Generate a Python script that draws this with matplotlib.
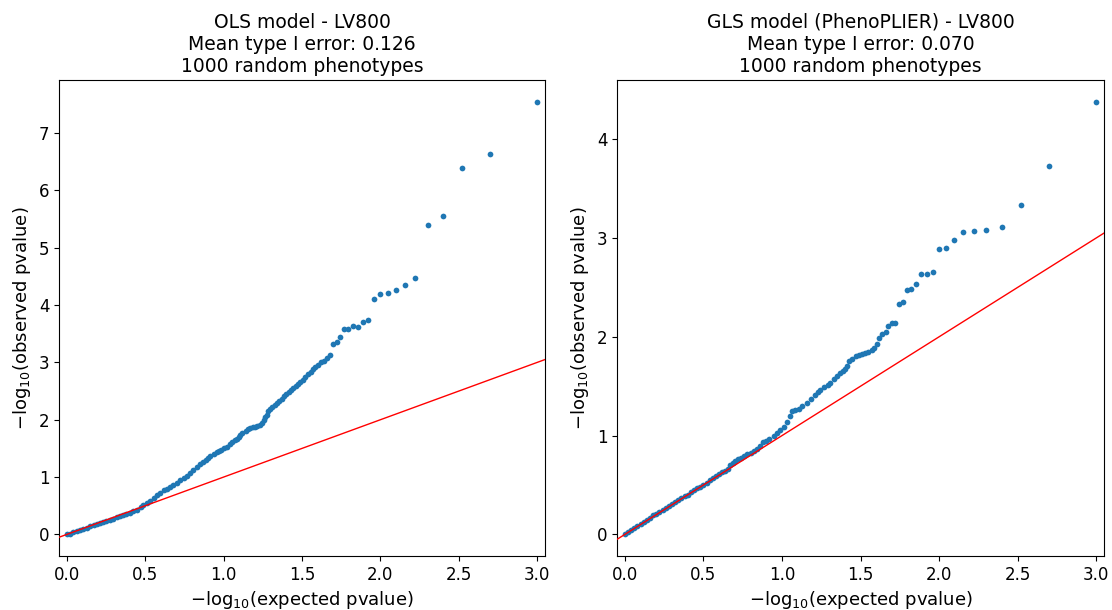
import matplotlib
matplotlib.use("Agg")
import matplotlib.pyplot as plt

# expected vs observed -log10(pvalue)
ols_expected = [
    0.000, 0.020, 0.040, 0.062, 0.085, 0.105, 0.126, 0.148, 0.170, 0.190,
    0.210, 0.230, 0.250, 0.275, 0.296, 0.318, 0.340, 0.360, 0.380, 0.400,
    0.424, 0.445, 0.470, 0.488, 0.510, 0.530, 0.555, 0.575, 0.594, 0.620,
    0.640, 0.658, 0.680, 0.700, 0.722, 0.745, 0.765, 0.786, 0.807, 0.830,
    0.850, 0.870, 0.885, 0.900, 0.914, 0.940, 0.957, 0.970, 0.985, 1.000,
    1.020, 1.040, 1.055, 1.070, 1.084, 1.095, 1.105, 1.120, 1.140, 1.155,
    1.170, 1.185, 1.200, 1.215, 1.233, 1.245, 1.255, 1.265, 1.275, 1.286,
    1.295, 1.310, 1.325, 1.340, 1.355, 1.370, 1.385, 1.400, 1.415, 1.430,
    1.445, 1.460, 1.475, 1.490, 1.505, 1.520, 1.540, 1.555, 1.570, 1.585,
    1.600, 1.620, 1.640, 1.660, 1.680, 1.699, 1.721, 1.745, 1.770, 1.796,
    1.824, 1.854, 1.886, 1.921, 1.959, 2.000, 2.046, 2.097, 2.155, 2.222,
    2.301, 2.398, 2.523, 2.699, 3.000,
]
ols_observed = [
    0.000, 0.015, 0.035, 0.055, 0.075, 0.095, 0.115, 0.140, 0.160, 0.180,
    0.195, 0.215, 0.230, 0.250, 0.270, 0.295, 0.315, 0.340, 0.360, 0.380,
    0.405, 0.430, 0.470, 0.510, 0.550, 0.590, 0.640, 0.690, 0.725, 0.770,
    0.800, 0.830, 0.860, 0.900, 0.940, 0.980, 1.020, 1.070, 1.120, 1.170,
    1.220, 1.270, 1.300, 1.330, 1.360, 1.410, 1.440, 1.460, 1.480, 1.500,
    1.530, 1.580, 1.610, 1.640, 1.670, 1.700, 1.740, 1.770, 1.800, 1.830,
    1.850, 1.870, 1.880, 1.890, 1.910, 1.950, 1.990, 2.040, 2.090, 2.150,
    2.180, 2.220, 2.260, 2.290, 2.330, 2.370, 2.410, 2.450, 2.480, 2.520,
    2.560, 2.590, 2.630, 2.660, 2.700, 2.740, 2.800, 2.840, 2.880, 2.920,
    2.960, 3.000, 3.030, 3.080, 3.130, 3.320, 3.360, 3.440, 3.580, 3.580,
    3.630, 3.620, 3.700, 3.740, 4.100, 4.200, 4.210, 4.270, 4.350, 4.480,
    5.400, 5.550, 6.390, 6.640, 7.550,
]

gls_expected = [
    0.000, 0.020, 0.040, 0.060, 0.080, 0.100, 0.120, 0.140, 0.160, 0.180,
    0.200, 0.220, 0.240, 0.260, 0.280, 0.300, 0.320, 0.340, 0.360, 0.380,
    0.400, 0.420, 0.440, 0.460, 0.480, 0.500, 0.520, 0.540, 0.560, 0.580,
    0.600, 0.620, 0.640, 0.655, 0.670, 0.685, 0.700, 0.720, 0.740, 0.760,
    0.780, 0.800, 0.820, 0.840, 0.860, 0.880, 0.900, 0.920, 0.946, 0.970,
    0.990, 1.010, 1.030, 1.050, 1.064, 1.085, 1.106, 1.130, 1.160, 1.185,
    1.210, 1.230, 1.244, 1.265, 1.290, 1.308, 1.330, 1.350, 1.370, 1.385,
    1.400, 1.415, 1.425, 1.447, 1.468, 1.490, 1.510, 1.530, 1.550, 1.570,
    1.585, 1.606, 1.620, 1.638, 1.660, 1.676, 1.699, 1.721, 1.745, 1.770,
    1.796, 1.824, 1.854, 1.886, 1.921, 1.959, 2.000, 2.046, 2.097, 2.155,
    2.222, 2.301, 2.398, 2.523, 2.699, 3.000,
]
gls_observed = [
    0.000, 0.020, 0.040, 0.065, 0.085, 0.105, 0.130, 0.150, 0.170, 0.195,
    0.210, 0.230, 0.250, 0.265, 0.285, 0.305, 0.325, 0.350, 0.370, 0.385,
    0.400, 0.425, 0.445, 0.465, 0.480, 0.500, 0.525, 0.550, 0.575, 0.595,
    0.615, 0.630, 0.645, 0.665, 0.700, 0.725, 0.740, 0.760, 0.775, 0.795,
    0.810, 0.825, 0.840, 0.860, 0.890, 0.930, 0.950, 0.970, 1.000, 1.030,
    1.060, 1.090, 1.140, 1.200, 1.245, 1.260, 1.270, 1.300, 1.330, 1.370,
    1.410, 1.440, 1.460, 1.490, 1.510, 1.530, 1.570, 1.600, 1.630, 1.650,
    1.670, 1.700, 1.750, 1.780, 1.810, 1.820, 1.830, 1.840, 1.850, 1.870,
    1.890, 1.930, 1.990, 2.030, 2.050, 2.110, 2.140, 2.140, 2.330, 2.350,
    2.470, 2.480, 2.530, 2.640, 2.640, 2.660, 2.890, 2.900, 2.980, 3.060,
    3.070, 3.080, 3.110, 3.330, 3.730, 4.380,
]

titles = [
    "OLS model - LV800\nMean type I error: 0.126\n1000 random phenotypes",
    "GLS model (PhenoPLIER) - LV800\nMean type I error: 0.070\n1000 random phenotypes",
]

fig = plt.figure(figsize=(11.12, 6.10), dpi=100)
ax1 = fig.add_axes([0.0531, 0.0885, 0.437, 0.7804])
ax2 = fig.add_axes([0.5549, 0.0885, 0.438, 0.7804])

panels = [(ax1, ols_expected, ols_observed), (ax2, gls_expected, gls_observed)]
for (ax, xs, ys), title in zip(panels, titles):
    ax.scatter(xs, ys, s=17, color="#1f77b4", linewidths=0, zorder=2)
    ax.axline((0, 0), slope=1, color="red", linewidth=1, zorder=3)
    ax.set_xlim(-0.05, 3.05)
    ax.set_xticks([0.0, 0.5, 1.0, 1.5, 2.0, 2.5, 3.0])
    ax.set_title(title, fontsize=13.5)
    ax.set_xlabel(r"$-\mathrm{log}_{10}$(expected pvalue)", fontsize=13)
    ax.set_ylabel(r"$-\mathrm{log}_{10}$(observed pvalue)", fontsize=13)
    ax.tick_params(labelsize=12)

fig.savefig("out.png", dpi=100)
